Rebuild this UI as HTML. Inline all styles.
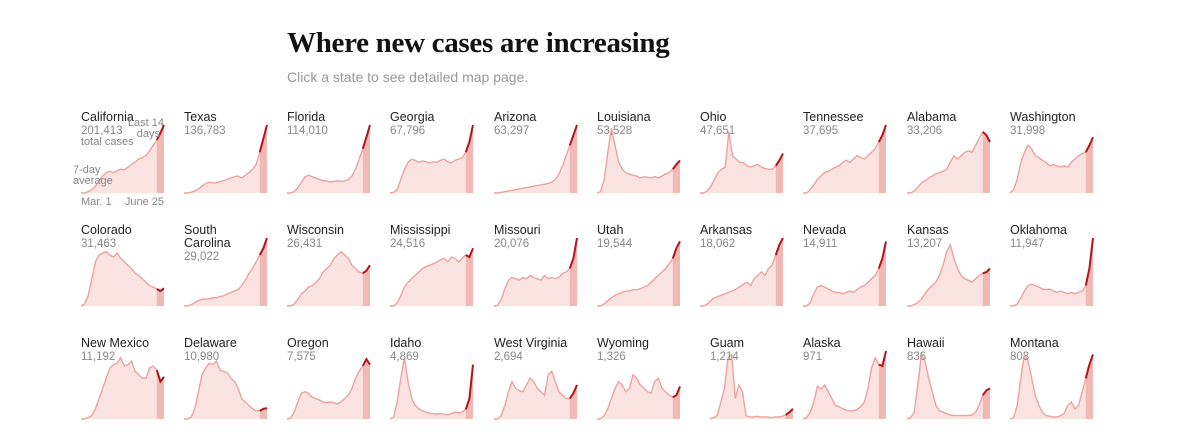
<!DOCTYPE html>
<html><head><meta charset="utf-8">
<style>
body{margin:0;background:#fff;width:1200px;height:448px;overflow:hidden;font-family:"Liberation Sans",sans-serif}
#title{position:absolute;left:287px;top:27px;font-family:"Liberation Serif",serif;font-weight:bold;font-size:29px;color:#121212;letter-spacing:-0.3px}
#sub{position:absolute;left:287px;top:69px;font-size:14px;color:#999}
svg{position:absolute;left:0;top:0}
</style></head><body>
<div id="title">Where new cases are increasing</div>
<div id="sub">Click a state to see detailed map page.</div>
<svg id="chart" width="1200" height="448"></svg>
<script>
const states=["California","Texas","Florida","Georgia","Arizona","Louisiana","Ohio","Tennessee","Alabama","Washington","Colorado","South Carolina","Wisconsin","Mississippi","Missouri","Utah","Arkansas","Nevada","Kansas","Oklahoma","New Mexico","Delaware","Oregon","Idaho","West Virginia","Wyoming","Guam","Alaska","Hawaii","Montana"];
const totals=["201,413","136,783","114,010","67,796","63,297","53,528","47,651","37,695","33,206","31,998","31,463","29,022","26,431","24,516","20,076","19,544","18,062","14,911","13,207","11,947","11,192","10,980","7,575","4,869","2,694","1,326","1,214","971","836","803"];
const series=[
[0,0,2,5,10,18,25,30,32,30,33,35,34,38,42,45,50,52,55,62,70,78,88,100],
[0,0,1,3,6,10,14,16,15,15,17,18,20,22,24,25,22,26,30,35,42,60,80,100],
[0,0,2,8,16,24,26,24,22,20,18,18,16,17,18,17,18,20,25,35,50,65,82,100],
[0,1,5,20,35,45,50,48,45,47,46,44,46,45,48,50,46,44,48,50,52,60,75,100],
[0,0,1,2,3,4,5,6,7,8,9,10,11,12,13,14,16,20,28,40,55,70,85,100],
[0,2,20,60,95,70,45,35,30,28,26,25,22,24,23,22,24,22,25,28,30,35,42,48],
[0,0,3,10,20,30,35,38,90,55,50,45,45,40,38,40,42,38,36,35,35,40,48,58],
[0,0,5,12,20,25,30,32,35,38,40,45,48,45,50,55,52,50,55,60,65,75,85,100],
[0,0,3,8,15,18,22,25,28,30,32,35,45,55,50,55,60,62,60,70,80,90,85,75],
[0,5,20,45,60,70,65,55,52,48,45,40,42,40,38,40,38,45,50,55,58,60,70,82],
[0,3,15,40,65,75,78,80,75,72,78,70,65,60,55,48,45,40,35,30,28,25,22,26],
[0,0,2,5,8,10,10,11,12,12,14,15,18,20,22,24,30,38,48,55,65,75,85,100],
[0,0,3,10,18,22,28,30,35,40,50,55,60,70,75,80,75,70,60,55,50,48,52,60],
[0,0,5,15,28,35,40,45,50,55,58,60,62,65,68,70,65,72,70,65,70,75,72,85],
[0,1,10,25,38,42,40,38,42,40,45,42,40,38,45,40,42,40,42,48,50,55,70,100],
[0,0,3,8,12,16,18,20,22,22,24,24,25,28,30,35,40,45,50,55,62,70,85,95],
[0,0,3,8,12,14,16,18,20,22,25,28,32,35,30,40,45,50,45,55,60,75,90,100],
[0,0,5,18,28,30,28,25,22,20,20,18,20,22,20,24,28,30,35,40,45,55,70,95],
[0,0,2,5,10,18,25,30,35,45,60,80,90,70,55,45,40,38,35,40,45,48,50,55],
[0,0,3,12,22,30,32,30,28,25,24,25,22,20,22,20,18,20,18,20,22,30,55,100],
[0,0,2,5,15,30,45,60,75,80,82,90,78,80,85,70,65,60,60,75,78,72,55,62],
[0,0,3,15,40,65,75,82,80,85,72,70,68,60,55,45,30,25,20,15,12,12,15,16],
[0,1,10,25,38,40,38,32,30,28,25,24,25,24,22,25,30,35,45,60,70,78,88,80],
[0,3,25,60,90,55,30,20,15,12,10,8,8,7,8,7,6,8,10,9,10,14,30,80],
[0,0,5,20,40,55,45,42,40,50,60,55,45,40,35,65,70,55,40,35,30,30,38,50],
[0,0,5,15,30,45,55,50,40,45,65,60,50,45,40,38,55,60,45,40,35,32,35,48],
[0,2,5,25,45,90,95,30,50,40,5,3,3,4,3,3,3,2,3,3,4,6,10,15],
[0,2,10,25,48,44,50,40,30,20,18,15,13,12,12,14,18,25,45,75,90,80,78,100],
[0,2,10,50,95,85,60,40,20,12,10,8,6,5,5,5,5,5,6,10,20,35,42,45],
[0,2,20,60,95,85,60,35,20,10,5,4,3,3,5,8,20,25,15,20,40,60,80,95]
];
const NS="http://www.w3.org/2000/svg";
const svg=document.getElementById('chart');
const W=83,H=68,colX=[81,184,287,390,494,597,700,803,907,1010],rowY=[193,306,419];
function mk(tag,attrs,parent){const e=document.createElementNS(NS,tag);for(const k in attrs)e.setAttribute(k,attrs[k]);(parent||svg).appendChild(e);return e;}
states.forEach((name,i)=>{
  const vals=series[i];const n=vals.length;
  const x0=colX[i%10]+(i===26?10:0),base=rowY[Math.floor(i/10)];
  const g=mk('g',{});
  
  
  const xs=k=>x0+k/(n-1)*W, ys=v=>base-v/100*H;
  const cut=n-3;
  let area='M'+xs(0)+','+base;vals.forEach((v,k)=>area+='L'+xs(k)+','+ys(v));area+='L'+xs(n-1)+','+base+'Z';
  const a=mk('path',{d:area,fill:'#fbe3e1'},g);
  
  let area2='M'+xs(cut)+','+base;for(let k=cut;k<n;k++)area2+='L'+xs(k)+','+ys(vals[k]);area2+='L'+xs(n-1)+','+base+'Z';
  const a2=mk('path',{d:area2,fill:'#f0b9b5'},g);
  
  let l1='';for(let k=0;k<=cut;k++)l1+=(k?'L':'M')+xs(k)+','+ys(vals[k]);
  const p1=mk('path',{d:l1,fill:'none',stroke:'#eba3a0','stroke-width':1.4},g);
  
  let l2='';for(let k=cut;k<n;k++)l2+=(k>cut?'L':'M')+xs(k)+','+ys(vals[k]);
  const p2=mk('path',{d:l2,fill:'none',stroke:'#b3141a','stroke-width':2},g);
  
  const ty=base-72;
  const lines=name==="South Carolina"?["South","Carolina"]:[name];
  lines.forEach((s,j)=>{const t=mk('text',{x:x0,y:ty+j*13,'font-size':12.5,fill:'#222'},g);t.textContent=s;
    });
  const c=mk('text',{x:x0,y:ty+13*lines.length,'font-size':11.5,fill:'#888'},g);c.textContent=totals[i];
  
});
const ann=[["total cases",81,145,"start"],["Last 14",164,126,"end"],["days",160,137,"end"],["7-day",73,173,"start"],["average",73,184,"start"],["Mar. 1",81,205,"start"],["June 25",164,205,"end"]];
ann.forEach(a=>{const t=mk('text',{x:a[1],y:a[2],'font-size':11,fill:'#888','text-anchor':a[3]});t.textContent=a[0];
  });
</script>
</body></html>
